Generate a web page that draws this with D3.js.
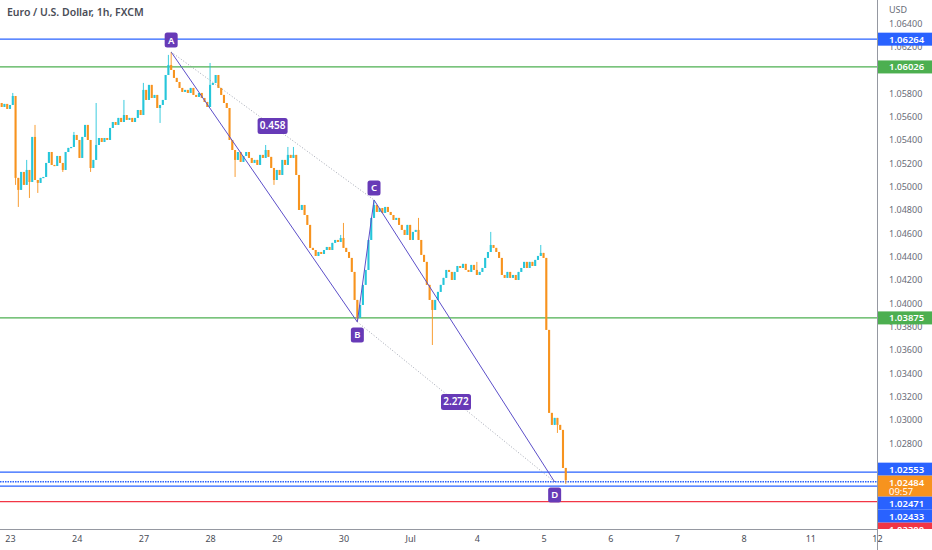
<!DOCTYPE html>
<html>
<head>
<meta charset="utf-8">
<script src="https://cdn.jsdelivr.net/npm/d3@7"></script>
<style>
  body { margin: 0; background: #fff; }
  svg { display: block; font-family: "Noto Sans", "DejaVu Sans", sans-serif; }
</style>
</head>
<body>
<svg id="chart" width="932" height="550"></svg>
<script>
// EUR/USD 1h candles. open = previous close
var firstOpen = 1.05554;
var firstHour = -4; // first candle is 22 Jun 20:00, hours counted from 23 Jun 00:00 (trading hours)
var closes = [
  1.05717, 1.05683, 1.05709, 1.05666, 1.05700, 1.05777, 1.05075, 1.04972, 1.05126, 1.05015,
  1.05143, 1.05040, 1.05426, 1.05057, 1.05032, 1.05075, 1.05083, 1.05203, 1.05297, 1.05186,
  1.05177, 1.05263, 1.05203, 1.05143, 1.05297, 1.05332, 1.05340, 1.05443, 1.05400, 1.05246,
  1.05426, 1.05529, 1.05400, 1.05160, 1.05229, 1.05357, 1.05417, 1.05383, 1.05417, 1.05400,
  1.05503, 1.05554, 1.05529, 1.05589, 1.05554, 1.05614, 1.05572, 1.05589, 1.05554, 1.05589,
  1.05657, 1.05614, 1.05829, 1.05743, 1.05872, 1.05760, 1.05786, 1.05674, 1.05700, 1.05743,
  1.05957, 1.06043, 1.06000, 1.05932, 1.05897, 1.05846, 1.05812, 1.05829, 1.05803, 1.05846,
  1.05786, 1.05769, 1.05803, 1.05760, 1.05726, 1.05683, 1.05872, 1.05889, 1.05957, 1.05846,
  1.05786, 1.05717, 1.05674, 1.05400, 1.05314, 1.05229, 1.05297, 1.05212, 1.05263, 1.05297,
  1.05246, 1.05203, 1.05229, 1.05186, 1.05272, 1.05246, 1.05314, 1.05255, 1.05160, 1.05057,
  1.05143, 1.05100, 1.05229, 1.05186, 1.05272, 1.05246, 1.05272, 1.05100, 1.04800, 1.04843,
  1.04757, 1.04672, 1.04475, 1.04457, 1.04406, 1.04440, 1.04423, 1.04457, 1.04483, 1.04457,
  1.04518, 1.04543, 1.04526, 1.04560, 1.04475, 1.04440, 1.04389, 1.04269, 1.04029, 1.03875,
  1.03986, 1.04158, 1.04286, 1.04543, 1.04732, 1.04843, 1.04783, 1.04817, 1.04775, 1.04826,
  1.04783, 1.04757, 1.04715, 1.04732, 1.04672, 1.04629, 1.04586, 1.04672, 1.04543, 1.04612,
  1.04629, 1.04543, 1.04415, 1.04355, 1.04158, 1.04029, 1.03943, 1.04029, 1.04098, 1.04158,
  1.04218, 1.04286, 1.04269, 1.04200, 1.04269, 1.04320, 1.04303, 1.04338, 1.04286, 1.04269,
  1.04329, 1.04286, 1.04243, 1.04269, 1.04303, 1.04389, 1.04440, 1.04500, 1.04475, 1.04440,
  1.04389, 1.04243, 1.04218, 1.04269, 1.04218, 1.04243, 1.04200, 1.04269, 1.04303, 1.04355,
  1.04303, 1.04355, 1.04320, 1.04372, 1.04406, 1.04432, 1.04389, 1.03772, 1.03061, 1.02958,
  1.03018, 1.02958, 1.02915, 1.02589, 1.02484
];
// candle index, high, low (null = body edge) for the wicks that show
var wicks = [
  [0, 1.05743, 1.05554], [5, 1.05803, null], [6, null, 1.05015], [7, null, 1.04826],
  [10, 1.05229, null], [11, null, 1.04903], [13, 1.05529, null], [14, null, 1.04946],
  [23, null, 1.05126], [27, 1.05469, null], [33, null, 1.05126], [35, 1.05717, null],
  [45, 1.05743, null], [52, 1.05889, null], [58, null, 1.05546], [61, 1.06129, null],
  [62, 1.06154, null], [76, 1.06060, null], [85, null, 1.05083], [96, 1.05357, null],
  [99, null, 1.05015], [104, 1.05340, null], [106, 1.05340, null], [123, 1.04586, null],
  [124, 1.04689, null], [129, null, 1.03840], [135, 1.04886, null], [151, 1.04732, null],
  [156, null, 1.03643], [172, 1.04355, null], [177, 1.04612, null], [195, 1.04500, null],
  [201, null, 1.02889], [204, null, 1.02452]
];

var dayLabels = ["23", "24", "27", "28", "29", "30", "Jul", "4", "5", "6", "7", "8", "11", "12"];
// price ticks that show on the right scale (1.060 sits fully under the 1.06026 tag)
var priceTicks = [1.064, 1.062, 1.058, 1.056, 1.054, 1.052, 1.050, 1.048, 1.046,
                  1.044, 1.042, 1.040, 1.038, 1.036, 1.034, 1.032, 1.030, 1.028];

var levelPrices = [1.06264, 1.06026, 1.03875, 1.02553, 1.02471, 1.02433, 1.02300];
var levelKinds  = ["blue", "green", "green", "blue", "blueDot", "blue", "red"];

var lastPrice = 1.02484;
var countdown = "09:57";

var patternNames = ["A", "B", "C", "D"];
var patternIdx = [62, 129, 135, 200];
var patternPrice = [1.06154, 1.03840, 1.04886, 1.02469];
var ratioLabels = ["0.458", "2.272"];

var colors = {
  up: "#26c6da", down: "#f7931e", blue: "#2962ff", blueDot: "#2962ff",
  green: "#4caf50", red: "#f23645", pattern: "#673ab7", axis: "#6a6d78"
};

var W = 932, H = 550, axisX = 877, axisY = 529;
var svg = d3.select("#chart");

var x = d3.scaleLinear().domain([0, 312]).range([10, axisX]);
var y = d3.scaleLinear().domain([1.064, 1.024]).range([23.3, 490]);

var candles = closes.map(function(c, k) {
  var o = k ? closes[k - 1] : firstOpen;
  return { h: k + firstHour, o: o, c: c, hi: Math.max(o, c), lo: Math.min(o, c) };
});
wicks.forEach(function(w) {
  if (w[1] != null) candles[w[0]].hi = w[1];
  if (w[2] != null) candles[w[0]].lo = w[2];
});

var plot = svg.append("g");

// horizontal levels
plot.selectAll(".level")
  .data(levelPrices)
  .enter().append("line")
    .attr("x1", 0).attr("x2", axisX)
    .attr("y1", function(d) { return y(d); })
    .attr("y2", function(d) { return y(d); })
    .attr("stroke", function(d, i) { return colors[levelKinds[i]]; })
    .attr("stroke-width", function(d, i) { return levelKinds[i] == "blueDot" ? 1.6 : 1.3; })
    .attr("stroke-dasharray", function(d, i) { return levelKinds[i] == "blueDot" ? "1.5,1" : null; });

// candles
var cg = plot.selectAll(".candle")
  .data(candles)
  .enter().append("g")
    .attr("class", "candle");

cg.append("line")
  .attr("x1", function(d) { return x(d.h); })
  .attr("x2", function(d) { return x(d.h); })
  .attr("y1", function(d) { return y(d.hi); })
  .attr("y2", function(d) { return y(d.lo); })
  .attr("stroke", function(d) { return d.c >= d.o ? colors.up : colors.down; })
  .attr("stroke-width", 0.9);

cg.append("rect")
  .attr("x", function(d) { return x(d.h) - 1.05; })
  .attr("width", 2.1)
  .attr("y", function(d) { return y(Math.max(d.o, d.c)); })
  .attr("height", function(d) { return Math.max(1.2, Math.abs(y(d.o) - y(d.c))); })
  .attr("fill", function(d) { return d.c >= d.o ? colors.up : colors.down; });

// ABCD pattern
var pts = patternIdx.map(function(k, i) {
  return { name: patternNames[i], x: x(k + firstHour), y: y(patternPrice[i]) };
});

plot.selectAll(".leg")
  .data([[0, 1], [1, 2], [2, 3]])
  .enter().append("line")
    .attr("x1", function(d) { return pts[d[0]].x; })
    .attr("y1", function(d) { return pts[d[0]].y; })
    .attr("x2", function(d) { return pts[d[1]].x; })
    .attr("y2", function(d) { return pts[d[1]].y; })
    .attr("stroke", "#5c4fc9")
    .attr("stroke-width", 1);

plot.selectAll(".diag")
  .data([[0, 2], [1, 3]])
  .enter().append("line")
    .attr("x1", function(d) { return pts[d[0]].x; })
    .attr("y1", function(d) { return pts[d[0]].y; })
    .attr("x2", function(d) { return pts[d[1]].x; })
    .attr("y2", function(d) { return pts[d[1]].y; })
    .attr("stroke", "#8a8fa0")
    .attr("stroke-width", 0.8)
    .attr("stroke-dasharray", "1,2");

// ratio boxes on the dotted lines
[[0, 2], [1, 3]].forEach(function(p, i) {
  var mx = (pts[p[0]].x + pts[p[1]].x) / 2, my = (pts[p[0]].y + pts[p[1]].y) / 2;
  plot.append("rect")
    .attr("x", mx - 15).attr("y", my - 8).attr("width", 30).attr("height", 16)
    .attr("rx", 2.5).attr("fill", colors.pattern);
  plot.append("text")
    .attr("x", mx).attr("y", my + 3.5)
    .attr("text-anchor", "middle").attr("fill", "#fff")
    .attr("font-size", 10).attr("font-weight", 600)
    .text(ratioLabels[i]);
});

// point letters: A, C above; B, D below
pts.forEach(function(p, i) {
  var up = (i % 2 == 0);
  var cy = up ? p.y - 12 : p.y + 13;
  plot.append("rect")
    .attr("x", p.x - 6.5).attr("y", cy - 7.5).attr("width", 13).attr("height", 15)
    .attr("rx", 2.5).attr("fill", colors.pattern);
  plot.append("text")
    .attr("x", p.x).attr("y", cy + 3.5)
    .attr("text-anchor", "middle").attr("fill", "#fff")
    .attr("font-size", 9.5).attr("font-weight", 600)
    .text(p.name);
});

// title
svg.append("text")
  .attr("x", 7).attr("y", 16)
  .attr("fill", "#4a4d57").attr("font-size", 10.5).attr("font-weight", 600)
  .text("Euro / U.S. Dollar, 1h, FXCM");

// price axis
var yAxis = svg.append("g")
  .attr("transform", "translate(" + axisX + ",0)")
  .call(d3.axisRight(y)
    .tickValues(priceTicks)
    .tickFormat(d3.format(".5f"))
    .tickSize(0).tickPadding(12));
yAxis.select(".domain").remove();
yAxis.selectAll("text").attr("fill", colors.axis).attr("font-size", 9)
  .attr("font-family", "Noto Sans, sans-serif");

svg.append("text")
  .attr("x", 889).attr("y", 13)
  .attr("fill", colors.axis).attr("font-size", 9)
  .text("USD");

// price labels on the axis, pushed apart where they collide
var tags = levelPrices.map(function(p, i) {
  return { price: p, color: colors[levelKinds[i]], text: d3.format(".5f")(p), h: 13 };
});
tags.push({ price: lastPrice, color: colors.down, text: d3.format(".5f")(lastPrice), sub: countdown, h: 21 });
tags.sort(function(a, b) { return b.price - a.price; });
var prevBottom = -Infinity;
tags.forEach(function(t) {
  var top = y(t.price) - 6.5;
  if (top < prevBottom) top = prevBottom;
  t.top = top;
  prevBottom = top + t.h;
});
// the crowded group near the bottom sits a little higher
tags.forEach(function(t) { if (t.price < 1.03) t.top -= 3; });

var tagG = svg.append("g");
tagG.append("clipPath").attr("id", "tagclip")
  .append("rect").attr("x", axisX).attr("y", 0).attr("width", W - axisX).attr("height", axisY);
var tg = tagG.append("g").attr("clip-path", "url(#tagclip)");
tags.forEach(function(t) {
  tg.append("rect")
    .attr("x", axisX + 1).attr("y", t.top).attr("width", W - axisX - 1).attr("height", t.h)
    .attr("fill", t.color);
  tg.append("text")
    .attr("x", 889).attr("y", t.top + 10)
    .attr("fill", "#fff").attr("font-size", 9.5).attr("font-weight", 600)
    .text(t.text);
  if (t.sub) {
    tg.append("text")
      .attr("x", 889).attr("y", t.top + 19)
      .attr("fill", "#fff").attr("font-size", 9.5)
      .text(t.sub);
  }
});

// time axis
svg.append("rect").attr("x", 0).attr("y", axisY).attr("width", W).attr("height", H - axisY).attr("fill", "#fff");
var xAxis = svg.append("g")
  .attr("transform", "translate(0," + axisY + ")")
  .call(d3.axisBottom(x)
    .tickValues(d3.range(0, 313, 24))
    .tickFormat(function(d, i) { return dayLabels[i]; })
    .tickSize(0).tickPadding(7));
xAxis.select(".domain").attr("stroke", "#9598a1").attr("d", "M0,0.5H" + axisX);
xAxis.selectAll("text").attr("fill", "#4a4d57").attr("font-size", 9)
  .attr("font-family", "Noto Sans, sans-serif");

svg.append("line")
  .attr("x1", axisX + 0.5).attr("x2", axisX + 0.5).attr("y1", 0).attr("y2", H)
  .attr("stroke", "#9598a1");
</script>
</body>
</html>
